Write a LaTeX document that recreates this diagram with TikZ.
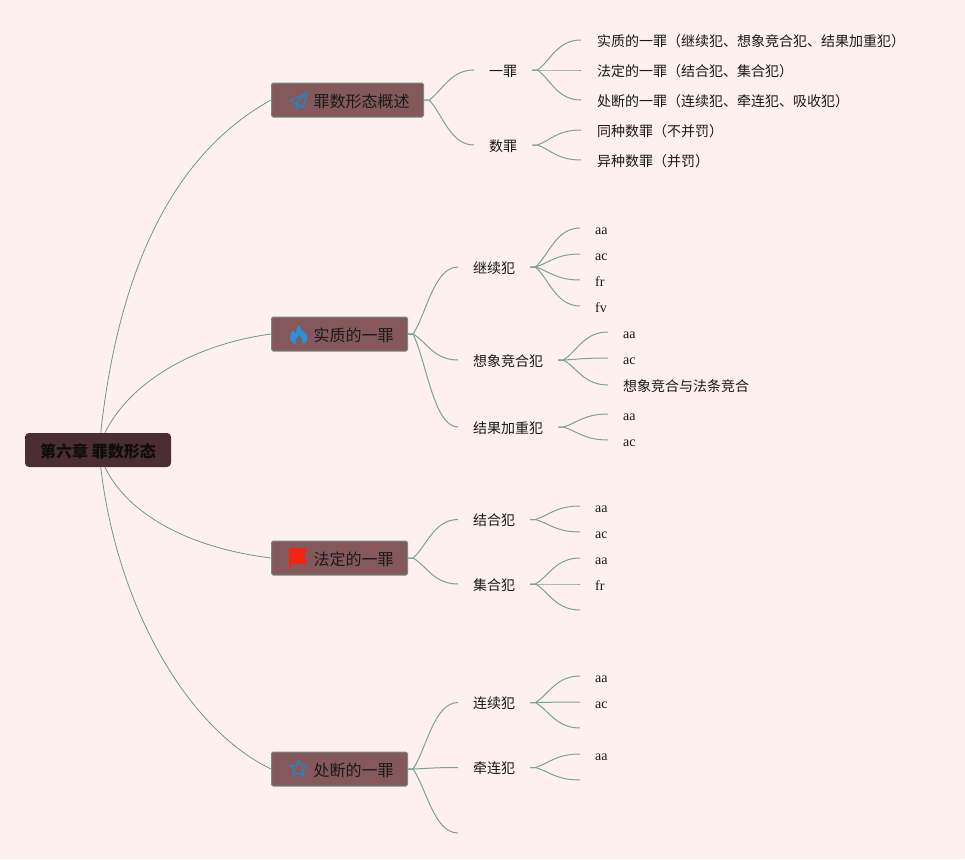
\documentclass[tikz,border=0pt]{standalone}
\usepackage{fontspec}
\setmainfont{Liberation Serif}
\newfontfamily\cjk{Noto Sans CJK SC}
\usetikzlibrary{calc}
\definecolor{bgc}{HTML}{FFF0F0}
\definecolor{rootc}{HTML}{4A2E33}
\definecolor{boxc}{HTML}{85585C}
\definecolor{edgec}{HTML}{6F8F84}
\definecolor{linkc}{HTML}{78A395}
\definecolor{rootlinkc}{HTML}{6A9A8A}
\definecolor{iconb}{HTML}{2F80B8}
\definecolor{fireb}{HTML}{2A90DA}
\definecolor{flagr}{HTML}{F02410}
\tikzset{
  rootbox/.style={draw=none,fill=rootc,rounded corners=4pt,minimum width=146pt,minimum height=34pt,inner sep=0pt,anchor=center,text height=16pt,text depth=2pt,font=\cjk\bfseries\fontsize{16}{18}\selectfont,text=black!95},
  mainbox/.style={draw=edgec,line width=1pt,fill=boxc,rounded corners=1.5pt,minimum height=34pt,inner xsep=15pt,inner ysep=0pt,anchor=west,text height=16pt,text depth=2pt,font=\cjk\fontsize{16}{18}\selectfont,text=black!90},
  subnode/.style={anchor=west,inner xsep=15pt,inner ysep=2pt,text height=14pt,text depth=1.7pt,font=\cjk\fontsize{14}{16}\selectfont,text=black!90},
  leafcn/.style={anchor=west,inner xsep=16pt,inner ysep=2pt,text height=15pt,text depth=1.7pt,font=\cjk\fontsize{14}{16}\selectfont,text=black!90},
  leafen/.style={anchor=west,inner xsep=15pt,inner ysep=2pt,text height=12pt,text depth=0pt,font=\fontsize{14}{16}\selectfont,text=black!90},
  link/.style={draw=linkc,line width=1pt},
  rootlink/.style={draw=rootlinkc,line width=0.8pt},
}
\newcommand{\lk}[2]{\draw[link] (#1) -- ++(5,0) coordinate (stem) .. controls ($(stem)!0.3!(#2)$) and ($(#2)+(-24,0)$) .. (#2);}
\begin{document}
\begin{tikzpicture}[x=1pt,y=-1pt]
\useasboundingbox (0,0) rectangle (965,859);
\fill[bgc] (0,0) rectangle (965,859);
% hub
\node[rootbox] (root) at (98,450) {第六章 罪数形态};
\coordinate (rootup) at ($(root.north)+(2.7,0)$);
\coordinate (rootdn) at ($(root.south)+(2.7,0)$);
\coordinate (rootupb) at ($(root.north)+(7,0)$);
\coordinate (rootdnb) at ($(root.south)+(7,0)$);
% main boxes
\node[mainbox] (m1) at (271,100) {\hspace*{27pt}罪数形态概述\hspace*{-1pt}};
\node[mainbox] (m2) at (271,334) {\hspace*{27pt}实质的一罪\hspace*{-1pt}};
\node[mainbox] (m3) at (271,558) {\hspace*{27pt}法定的一罪\hspace*{-1pt}};
\node[mainbox] (m4) at (271,769) {\hspace*{27pt}处断的一罪\hspace*{-1pt}};
% root links
\draw[rootlink] (rootup) .. controls (122,240) and (190,145) .. (m1.west);
\draw[rootlink] (rootupb) .. controls (128,385) and (190,345) .. (m2.west);
\draw[rootlink] (rootdnb) .. controls (128,515) and (190,548) .. (m3.west);
\draw[rootlink] (rootdn) .. controls (118,612) and (190,730) .. (m4.west);
% icons
\draw[iconb,line width=1.5pt,line join=round] (307,93) -- (290,100.5) -- (295.5,103.5) -- cycle;
\draw[iconb,line width=1.5pt,line join=round] (307,93) -- (303.5,107) -- (296,103.5) -- (297,109) -- (300.5,105.5);
\fill[fireb] (299,325) .. controls (300,331) and (308,333) .. (307.5,338) .. controls (307.5,342) and (304,344.5) .. (299,344.5) .. controls (294,344.5) and (290,342) .. (290,337.5) .. controls (290,334) and (292,332) .. (293,330) .. controls (294,332) and (295,333) .. (296,333) .. controls (296,330) and (297,327) .. (299,325) -- cycle;
\fill[boxc] (299,335) .. controls (301,337) and (303,339) .. (302.5,344) -- (295.5,344) .. controls (295,340) and (297,337) .. (299,335) -- cycle;
\fill[flagr] (289,548) -- (307,548) -- (304,556) -- (307,564) -- (290.5,564) -- (290.5,568) -- (289,568) -- cycle;
\draw[iconb,line width=1.6pt,line join=round] (298.5,760) -- (300.85,765.76) -- (307,766.2) -- (302.3,770.2) -- (303.8,776.3) -- (298.5,773) -- (293.2,776.3) -- (294.7,770.2) -- (290,766.2) -- (296.15,765.76) -- cycle;
% second level
\node[subnode] (a1) at (474,70) {一罪};
\node[subnode] (a2) at (474,145) {数罪};
\node[subnode] (b1) at (458,267) {继续犯};
\node[subnode] (b2) at (458,360) {想象竞合犯};
\node[subnode] (b3) at (458,427) {结果加重犯};
\node[subnode] (c1) at (458,519.5) {结合犯};
\node[subnode] (c2) at (458,584) {集合犯};
\node[subnode] (d1) at (458,702.5) {连续犯};
\node[subnode] (d2) at (458,767.5) {牵连犯};
\coordinate (d3) at (458,833);
\lk{m1.east}{a1.west}\lk{m1.east}{a2.west}
\lk{m2.east}{b1.west}\lk{m2.east}{b2.west}\lk{m2.east}{b3.west}
\lk{m3.east}{c1.west}\lk{m3.east}{c2.west}
\lk{m4.east}{d1.west}\lk{m4.east}{d2.west}\lk{m4.east}{d3}
% leaves
\node[leafcn] (a11) at (581,40) {实质的一罪（继续犯、想象竞合犯、结果加重犯）};
\node[leafcn] (a12) at (581,70) {法定的一罪（结合犯、集合犯）};
\node[leafcn] (a13) at (581,100) {处断的一罪（连续犯、牵连犯、吸收犯）};
\node[leafcn] (a21) at (581,130) {同种数罪（不并罚）};
\node[leafcn] (a22) at (581,160) {异种数罪（并罚）};
\lk{a1.east}{a11.west}\lk{a1.east}{a12.west}\lk{a1.east}{a13.west}
\lk{a2.east}{a21.west}\lk{a2.east}{a22.west}
\node[leafen] (b11) at (580,228) {aa};
\node[leafen] (b12) at (580,254) {ac};
\node[leafen] (b13) at (580,280) {fr};
\node[leafen] (b14) at (580,306) {fv};
\lk{b1.east}{b11.west}\lk{b1.east}{b12.west}\lk{b1.east}{b13.west}\lk{b1.east}{b14.west}
\node[leafen] (b21) at (608,332) {aa};
\node[leafen] (b22) at (608,358) {ac};
\node[leafen,text height=15pt,text depth=1.7pt] (b23) at (608,385) {\cjk 想象竞合与法条竞合};
\lk{b2.east}{b21.west}\lk{b2.east}{b22.west}\lk{b2.east}{b23.west}
\node[leafen] (b31) at (608,414) {aa};
\node[leafen] (b32) at (608,440) {ac};
\lk{b3.east}{b31.west}\lk{b3.east}{b32.west}
\node[leafen] (c11) at (580,506) {aa};
\node[leafen] (c12) at (580,532) {ac};
\lk{c1.east}{c11.west}\lk{c1.east}{c12.west}
\node[leafen] (c21) at (580,558) {aa};
\node[leafen] (c22) at (580,584) {fr};
\coordinate (c23) at (580,610);
\lk{c2.east}{c21.west}\lk{c2.east}{c22.west}\lk{c2.east}{c23}
\node[leafen] (d11) at (580,676) {aa};
\node[leafen] (d12) at (580,702) {ac};
\coordinate (d13) at (580,728);
\lk{d1.east}{d11.west}\lk{d1.east}{d12.west}\lk{d1.east}{d13}
\node[leafen] (d21) at (580,754) {aa};
\coordinate (d22) at (580,780);
\lk{d2.east}{d21.west}\lk{d2.east}{d22}
\end{tikzpicture}
\end{document}
